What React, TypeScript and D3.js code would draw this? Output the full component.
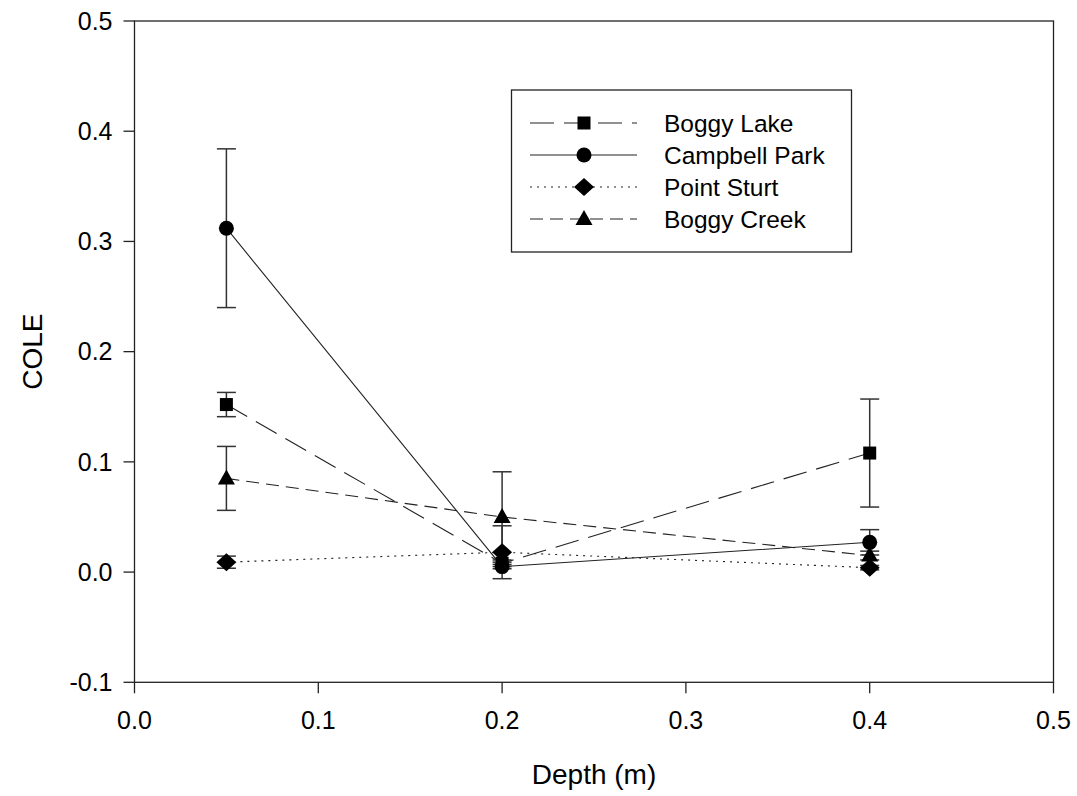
import React, { useRef, useEffect } from 'react';
import * as d3 from 'd3';

// depths (m) sampled at each site
const depths = [0.05, 0.2, 0.4];

const seriesNames = ['Boggy Lake', 'Campbell Park', 'Point Sturt', 'Boggy Creek'];

// COLE means per depth
const boggyLake = [0.152, 0.008, 0.108];
const campbellPark = [0.312, 0.005, 0.027];
const pointSturt = [0.009, 0.018, 0.004];
const boggyCreek = [0.085, 0.05, 0.015];

// standard errors per depth
const boggyLakeErr = [0.011, 0.003, 0.049];
const campbellParkErr = [0.072, 0.002, 0.0115];
const pointSturtErr = [0.0055, 0.024, 0.002];
const boggyCreekErr = [0.029, 0.041, 0.004];

const xTicks = [0.0, 0.1, 0.2, 0.3, 0.4, 0.5];
const yTicks = [-0.1, 0.0, 0.1, 0.2, 0.3, 0.4, 0.5];

const FONT = '"Liberation Sans", Arial, sans-serif';

// SigmaPlot style labels use a plain hyphen for negatives
const fmt = (t: number) => d3.format('.1f')(t).replace('\u2212', '-');

export default function App() {
    const ref = useRef<SVGSVGElement>(null);

    useEffect(() => {
        const svg = d3.select(ref.current);
        svg.selectAll('*').remove();

        const width = 1077;
        const height = 796;
        const left = 134.5, right = 1053.5, top = 21, bottom = 682.3;

        const x = d3.scaleLinear().domain([0, 0.5]).range([left, right]);
        const y = d3.scaleLinear().domain([-0.1, 0.5]).range([bottom, top]);

        svg.attr('width', width).attr('height', height);

        const series = [
            { name: seriesNames[0], values: boggyLake, errs: boggyLakeErr, dash: '24,10', shape: 'square' },
            { name: seriesNames[1], values: campbellPark, errs: campbellParkErr, dash: null, shape: 'circle' },
            { name: seriesNames[2], values: pointSturt, errs: pointSturtErr, dash: '2,5', shape: 'diamond' },
            { name: seriesNames[3], values: boggyCreek, errs: boggyCreekErr, dash: '13,7', shape: 'triangle' },
        ];

        // marker drawing helper
        const drawMarker = (g: any, shape: string, cx: number, cy: number) => {
            if (shape === 'square') {
                g.append('rect').attr('x', cx - 6.5).attr('y', cy - 6.5)
                    .attr('width', 13).attr('height', 13).attr('fill', '#000');
            } else if (shape === 'circle') {
                g.append('circle').attr('cx', cx).attr('cy', cy).attr('r', 7.5).attr('fill', '#000');
            } else if (shape === 'diamond') {
                g.append('path')
                    .attr('d', `M${cx},${cy - 9}L${cx + 10},${cy}L${cx},${cy + 9}L${cx - 10},${cy}Z`)
                    .attr('fill', '#000');
            } else {
                g.append('path')
                    .attr('d', `M${cx},${cy - 9}L${cx + 8.5},${cy + 6}L${cx - 8.5},${cy + 6}Z`)
                    .attr('fill', '#000');
            }
        };

        // frame
        svg.append('rect')
            .attr('x', left).attr('y', top)
            .attr('width', right - left).attr('height', bottom - top)
            .attr('fill', 'none').attr('stroke', '#222').attr('stroke-width', 1.3);

        // x axis ticks + labels
        const xAxis = svg.append('g');
        xTicks.forEach(t => {
            xAxis.append('line')
                .attr('x1', x(t)).attr('x2', x(t))
                .attr('y1', bottom).attr('y2', bottom + 11)
                .attr('stroke', '#222').attr('stroke-width', 1.3);
            xAxis.append('text')
                .attr('x', x(t)).attr('y', 729)
                .attr('text-anchor', 'middle')
                .attr('font-family', FONT).attr('font-size', 25)
                .text(fmt(t));
        });

        // y axis ticks + labels
        const yAxis = svg.append('g');
        yTicks.forEach(t => {
            yAxis.append('line')
                .attr('x1', left - 11).attr('x2', left)
                .attr('y1', y(t)).attr('y2', y(t))
                .attr('stroke', '#222').attr('stroke-width', 1.3);
            yAxis.append('text')
                .attr('x', left - 22).attr('y', y(t))
                .attr('dy', '0.35em')
                .attr('text-anchor', 'end')
                .attr('font-family', FONT).attr('font-size', 25)
                .text(fmt(t));
        });

        // axis titles
        svg.append('text')
            .attr('x', x(0.25)).attr('y', 784)
            .attr('text-anchor', 'middle')
            .attr('font-family', FONT).attr('font-size', 28)
            .text('Depth (m)');

        svg.append('text')
            .attr('transform', `translate(42, ${y(0.2)}) rotate(-90)`)
            .attr('text-anchor', 'middle')
            .attr('font-family', FONT).attr('font-size', 28)
            .text('COLE');

        const line = d3.line<number>()
            .x((d, i) => x(depths[i]))
            .y(d => y(d));

        // lines
        series.forEach(s => {
            svg.append('path')
                .attr('d', line(s.values))
                .attr('fill', 'none')
                .attr('stroke', '#222')
                .attr('stroke-width', 1.1)
                .attr('stroke-dasharray', s.dash);
        });

        // error bars
        series.forEach(s => {
            const g = svg.append('g').attr('stroke', '#333').attr('stroke-width', 1.5);
            s.values.forEach((v, i) => {
                const cx = x(depths[i]);
                const y1 = y(v + s.errs[i]);
                const y2 = y(v - s.errs[i]);
                g.append('line').attr('x1', cx).attr('x2', cx).attr('y1', y1).attr('y2', y2);
                g.append('line').attr('x1', cx - 9.5).attr('x2', cx + 9.5).attr('y1', y1).attr('y2', y1);
                g.append('line').attr('x1', cx - 9.5).attr('x2', cx + 9.5).attr('y1', y2).attr('y2', y2);
            });
        });

        // markers
        series.forEach(s => {
            const g = svg.append('g');
            s.values.forEach((v, i) => drawMarker(g, s.shape, x(depths[i]), y(v)));
        });

        // legend
        const lg = svg.append('g');
        lg.append('rect')
            .attr('x', 511.5).attr('y', 90)
            .attr('width', 340).attr('height', 162)
            .attr('fill', '#fff').attr('stroke', '#222').attr('stroke-width', 1.3);
        series.forEach((s, i) => {
            const ry = 123 + i * 32;
            lg.append('line')
                .attr('x1', 530).attr('x2', 637)
                .attr('y1', ry).attr('y2', ry)
                .attr('stroke', '#222').attr('stroke-width', 1.1)
                .attr('stroke-dasharray', s.dash);
            drawMarker(lg, s.shape, 584, ry);
            lg.append('text')
                .attr('x', 664).attr('y', ry)
                .attr('dy', '0.35em')
                .attr('font-family', FONT).attr('font-size', 24.5)
                .text(s.name);
        });
    }, []);

    return <svg ref={ref} style={{ position: 'absolute', left: 0, top: 0 }} />;
}
